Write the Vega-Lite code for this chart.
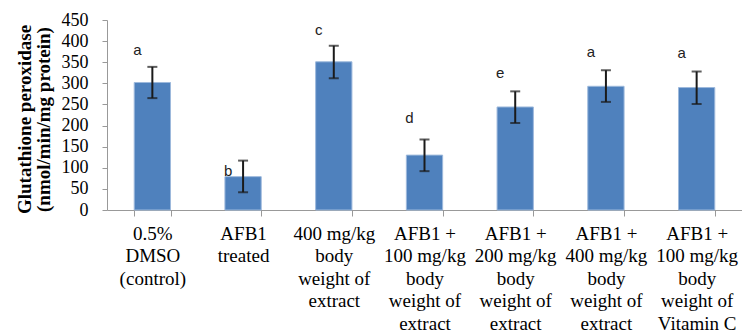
{
  "$schema": "https://vega.github.io/schema/vega-lite/v6.json",
  "autosize": {"type": "none"},
  "padding": {"left": 107, "top": 20, "right": 0, "bottom": 125},
  "width": 635,
  "height": 190,
  "background": "white",
  "data": {
    "values": [
      {"group": "0.5%|DMSO|(control)", "value": 302, "low": 265, "high": 339, "letter": "a", "letterY": 379},
      {"group": "AFB1|treated", "value": 79, "low": 42, "high": 117, "letter": "b", "letterY": 92},
      {"group": "400 mg/kg|body|weight of|extract", "value": 351, "low": 312, "high": 389, "letter": "c", "letterY": 426},
      {"group": "AFB1 +|100 mg/kg|body|weight of|extract", "value": 130, "low": 92, "high": 167, "letter": "d", "letterY": 218},
      {"group": "AFB1 +|200 mg/kg|body|weight of|extract", "value": 244, "low": 206, "high": 281, "letter": "e", "letterY": 324},
      {"group": "AFB1 +|400 mg/kg|body|weight of|extract", "value": 293, "low": 256, "high": 331, "letter": "a", "letterY": 374},
      {"group": "AFB1 +|100 mg/kg|body|weight of|Vitamin C", "value": 290, "low": 251, "high": 328, "letter": "a", "letterY": 372}
    ]
  },
  "encoding": {
    "x": {
      "field": "group",
      "type": "nominal",
      "sort": null,
      "scale": {"paddingInner": 0.6, "paddingOuter": 0.3},
      "axis": {
        "title": null,
        "labelAngle": 0,
        "labelExpr": "isValid(datum.value) ? split(datum.value, '|') : ''",
        "labelFont": "Liberation Serif",
        "labelFontSize": 19,
        "labelLineHeight": 22.5,
        "labelColor": "black",
        "labelPadding": 8,
        "labelLimit": 0,
        "labelOverlap": false,
        "labelBound": false,
        "tickBand": "extent",
        "tickSize": 6,
        "tickColor": "#999",
        "domainColor": "#999"
      }
    }
  },
  "layer": [
    {
      "mark": {"type": "bar", "color": "#4F81BD", "stroke": "#9DB9DC", "strokeWidth": 1},
      "encoding": {
        "y": {
          "field": "value",
          "type": "quantitative",
          "scale": {"domain": [0, 450], "nice": false},
          "axis": {"title": ["Glutathione  peroxidase", "(nmol/min/mg  protein)"]}
        }
      }
    },
    {
      "mark": {"type": "rule", "color": "#1a1a1a", "strokeWidth": 2},
      "encoding": {
        "y": {"field": "low", "type": "quantitative"},
        "y2": {"field": "high"}
      }
    },
    {
      "mark": {"type": "tick", "color": "#1a1a1a", "size": 10, "thickness": 2, "orient": "horizontal"},
      "encoding": {"y": {"field": "low", "type": "quantitative"}}
    },
    {
      "mark": {"type": "tick", "color": "#1a1a1a", "size": 10, "thickness": 2, "orient": "horizontal"},
      "encoding": {"y": {"field": "high", "type": "quantitative"}}
    },
    {
      "mark": {"type": "text", "font": "Liberation Sans", "fontSize": 15, "color": "#222", "dx": -15, "baseline": "middle"},
      "encoding": {
        "y": {"field": "letterY", "type": "quantitative"},
        "text": {"field": "letter"}
      }
    }
  ],
  "config": {
    "view": {"stroke": null},
    "axisY": {
      "tickCount": 9,
      "grid": false,
      "tickSize": 5,
      "tickColor": "#999",
      "domainColor": "#999",
      "labelFont": "Liberation Serif",
      "labelFontSize": 18,
      "labelColor": "black",
      "labelPadding": 14,
      "labelOverlap": false,
      "labelBound": false,
      "titleFont": "Liberation Serif",
      "titleFontSize": 19,
      "titleFontWeight": "bold",
      "titleColor": "black",
      "titleLineHeight": 19,
      "titleBaseline": "bottom",
      "titleAngle": -90,
      "titleAlign": "center",
      "titleX": -73,
      "titleY": 99
    }
  }
}
